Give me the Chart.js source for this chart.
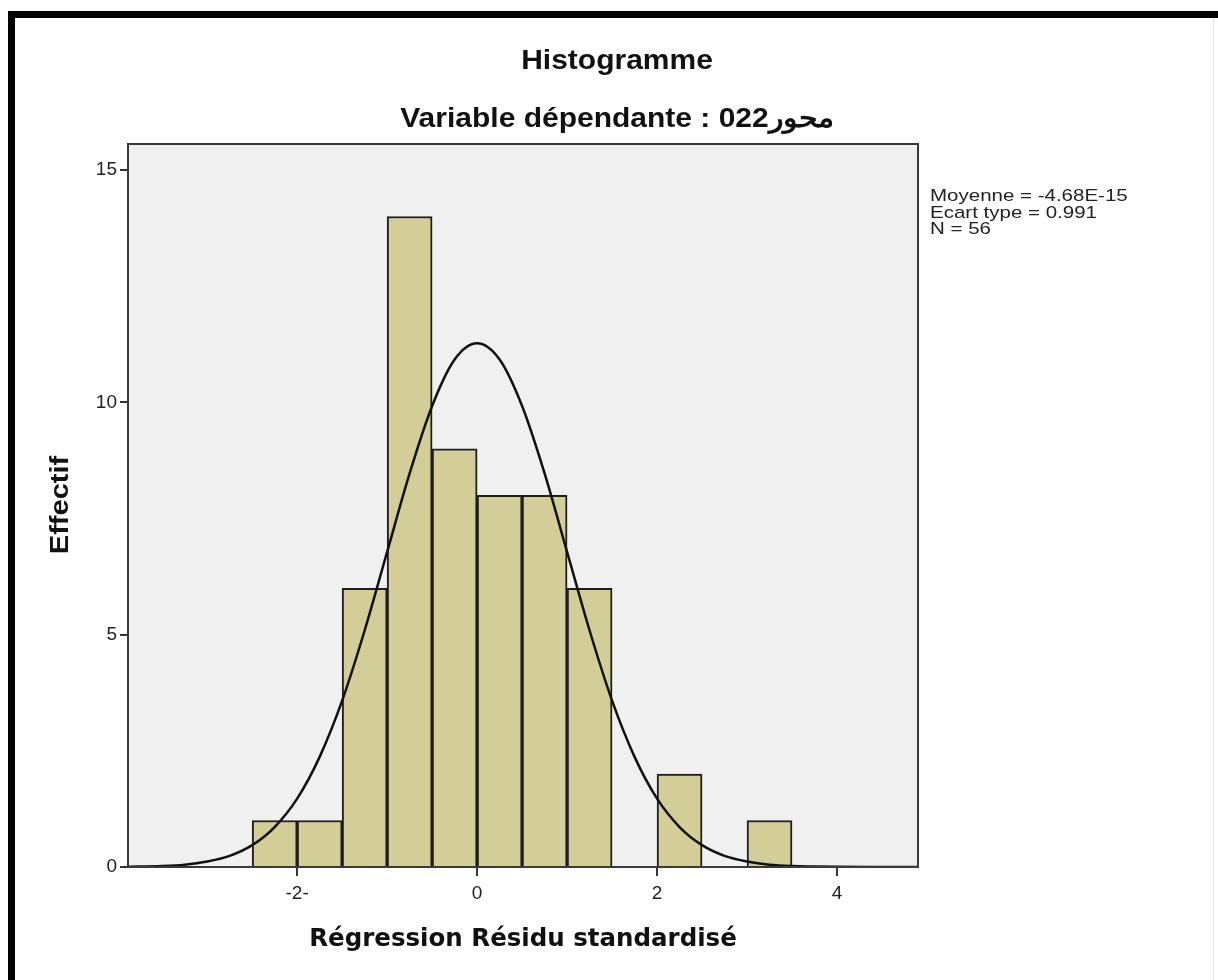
<!DOCTYPE html>
<html>
<head>
<meta charset="utf-8">
<script src="https://cdn.jsdelivr.net/npm/chart.js@4/dist/chart.umd.min.js"></script>
<style>
  html, body { margin: 0; padding: 0; background: #ffffff; }
  #wrap { width: 1218px; height: 980px; position: relative; }
</style>
</head>
<body>
<div id="wrap"><canvas id="c" width="1218" height="980"></canvas></div>
<script>
// ---- data ----
const binCenters = [-2.25, -1.75, -1.25, -0.75, -0.25, 0.25, 0.75, 1.25, 1.75, 2.25, 2.75, 3.25];
const binCounts  = [1, 1, 6, 14, 9, 8, 8, 6, 0, 2, 0, 1];

// normal curve
const curveX = [-3.88, -3.5, -3.25, -3, -2.75, -2.5, -2.25, -2, -1.75, -1.5, -1.25, -1, -0.75, -0.5, -0.25, 0,
                0.25, 0.5, 0.75, 1, 1.25, 1.5, 1.75, 2, 2.25, 2.5, 2.75, 3, 3.25, 3.5, 3.75, 4, 4.5, 4.9];
const curveY = [0.005, 0.02, 0.05, 0.12, 0.24, 0.47, 0.86, 1.47, 2.37, 3.58, 5.09, 6.78, 8.47, 9.92, 10.92, 11.27,
                10.92, 9.92, 8.47, 6.78, 5.09, 3.58, 2.37, 1.47, 0.86, 0.47, 0.24, 0.12, 0.05, 0.02, 0.009, 0.003, 0.0, 0.0];

const xTickValues = [-2, 0, 2, 4];
const xTickLabels = ['-2-', '0', '2', '4'];
const yTickValues = [0, 5, 10, 15];
const yTickLabels = ['0', '5', '10', '15'];

const chartTitle = 'Histogramme';
const chartSubtitle = 'Variable dépendante : محور022';
const xAxisTitle = 'Régression Résidu standardisé';
const yAxisTitle = 'Effectif';
const statsLines = ['Moyenne = -4.68E-15', 'Ecart type = 0.991', 'N = 56'];

// ---- drawing ----
function squashText(ctx, text, x, y, sy) {
  ctx.save();
  ctx.translate(x, y);
  ctx.scale(1, sy);
  ctx.fillText(text, 0, 0);
  ctx.restore();
}

const decor = {
  id: 'decor',
  beforeDraw(chart) {
    const ctx = chart.ctx;
    const a = chart.chartArea;
    ctx.save();
    ctx.fillStyle = '#ffffff';
    ctx.fillRect(0, 0, chart.width, chart.height);
    // outer black frame (left + top)
    ctx.fillStyle = '#000000';
    ctx.fillRect(8, 11, 7, chart.height - 11);
    ctx.fillRect(8, 11, chart.width - 8, 7);
    ctx.fillStyle = '#e6e6e6';
    ctx.fillRect(1213, 18, 1, chart.height - 18);
    // plot background
    ctx.fillStyle = '#f0f0f0';
    ctx.fillRect(a.left, a.top, a.right - a.left, a.bottom - a.top);
    ctx.restore();
  },
  afterDraw(chart) {
    const ctx = chart.ctx;
    const a = chart.chartArea;
    ctx.save();
    ctx.strokeStyle = '#3a3a3a';
    ctx.lineWidth = 2;
    ctx.strokeRect(a.left, a.top, a.right - a.left, a.bottom - a.top);

    ctx.fillStyle = '#111111';
    ctx.textAlign = 'center';
    ctx.textBaseline = 'middle';
    ctx.font = 'bold 30px "Liberation Sans", Arial, sans-serif';
    squashText(ctx, chartTitle, 617, 62, 0.9);
    squashText(ctx, chartSubtitle, 617, 120, 0.9);

    ctx.font = 'bold 24.5px "DejaVu Sans", Verdana, sans-serif';
    ctx.fillText(xAxisTitle, (a.left + a.right) / 2, 940);

    ctx.save();
    ctx.translate(61, 505);
    ctx.rotate(-Math.PI / 2);
    ctx.scale(1, 0.9);
    ctx.font = 'bold 29px "Liberation Sans", Arial, sans-serif';
    ctx.fillText(yAxisTitle, 0, 0);
    ctx.restore();

    ctx.textAlign = 'left';
    ctx.textBaseline = 'alphabetic';
    ctx.font = '20.5px "Liberation Sans", Arial, sans-serif';
    ctx.fillStyle = '#222222';
    statsLines.forEach((t, i) => squashText(ctx, t, 930, 201 + i * 16.5, 0.8));
    ctx.restore();
  }
};

new Chart(document.getElementById('c'), {
  type: 'bar',
  data: {
    datasets: [
      {
        type: 'line',
        data: curveX.map((x, i) => ({ x: x, y: curveY[i] })),
        borderColor: '#111111',
        borderWidth: 2.5,
        pointRadius: 0,
        fill: false,
        cubicInterpolationMode: 'monotone',
        order: 0
      },
      {
        type: 'bar',
        data: binCenters.map((x, i) => ({ x: x, y: binCounts[i] })),
        backgroundColor: '#d3ce97',
        borderColor: '#1e1e1e',
        borderWidth: (c) => (c.raw && c.raw.y === 0 ? 0 : 2),
        barPercentage: 1,
        categoryPercentage: 1,
        grouped: false,
        order: 1
      }
    ]
  },
  options: {
    responsive: false,
    animation: false,
    layout: { padding: { left: 0, right: 300, top: 144, bottom: 0 } },
    plugins: { legend: { display: false }, tooltip: { enabled: false }, title: { display: false } },
    scales: {
      x: {
        type: 'linear',
        min: -3.88,
        max: 4.9,
        offset: false,
        afterBuildTicks: (s) => { s.ticks = xTickValues.map(v => ({ value: v })); },
        afterFit: (s) => { s.height = 113; },
        ticks: {
          autoSkip: false,
          maxRotation: 0,
          padding: 6,
          color: '#222222',
          font: { family: '"Liberation Sans", Arial, sans-serif', size: 19 },
          callback: (v, i) => xTickLabels[i]
        },
        grid: { display: true, offset: false, drawOnChartArea: false, tickLength: 9, color: '#333333', lineWidth: 2 },
        border: { display: true, color: '#3a3a3a', width: 2 }
      },
      y: {
        type: 'linear',
        min: 0,
        max: 15.56,
        afterBuildTicks: (s) => { s.ticks = yTickValues.map(v => ({ value: v })); },
        afterFit: (s) => { s.width = 128; },
        ticks: {
          padding: 3,
          color: '#222222',
          font: { family: '"Liberation Sans", Arial, sans-serif', size: 19 },
          callback: (v, i) => yTickLabels[i]
        },
        grid: { display: true, drawOnChartArea: false, tickLength: 8, color: '#333333', lineWidth: 2 },
        border: { display: true, color: '#3a3a3a', width: 2 }
      }
    }
  },
  plugins: [decor]
});
</script>
</body>
</html>
